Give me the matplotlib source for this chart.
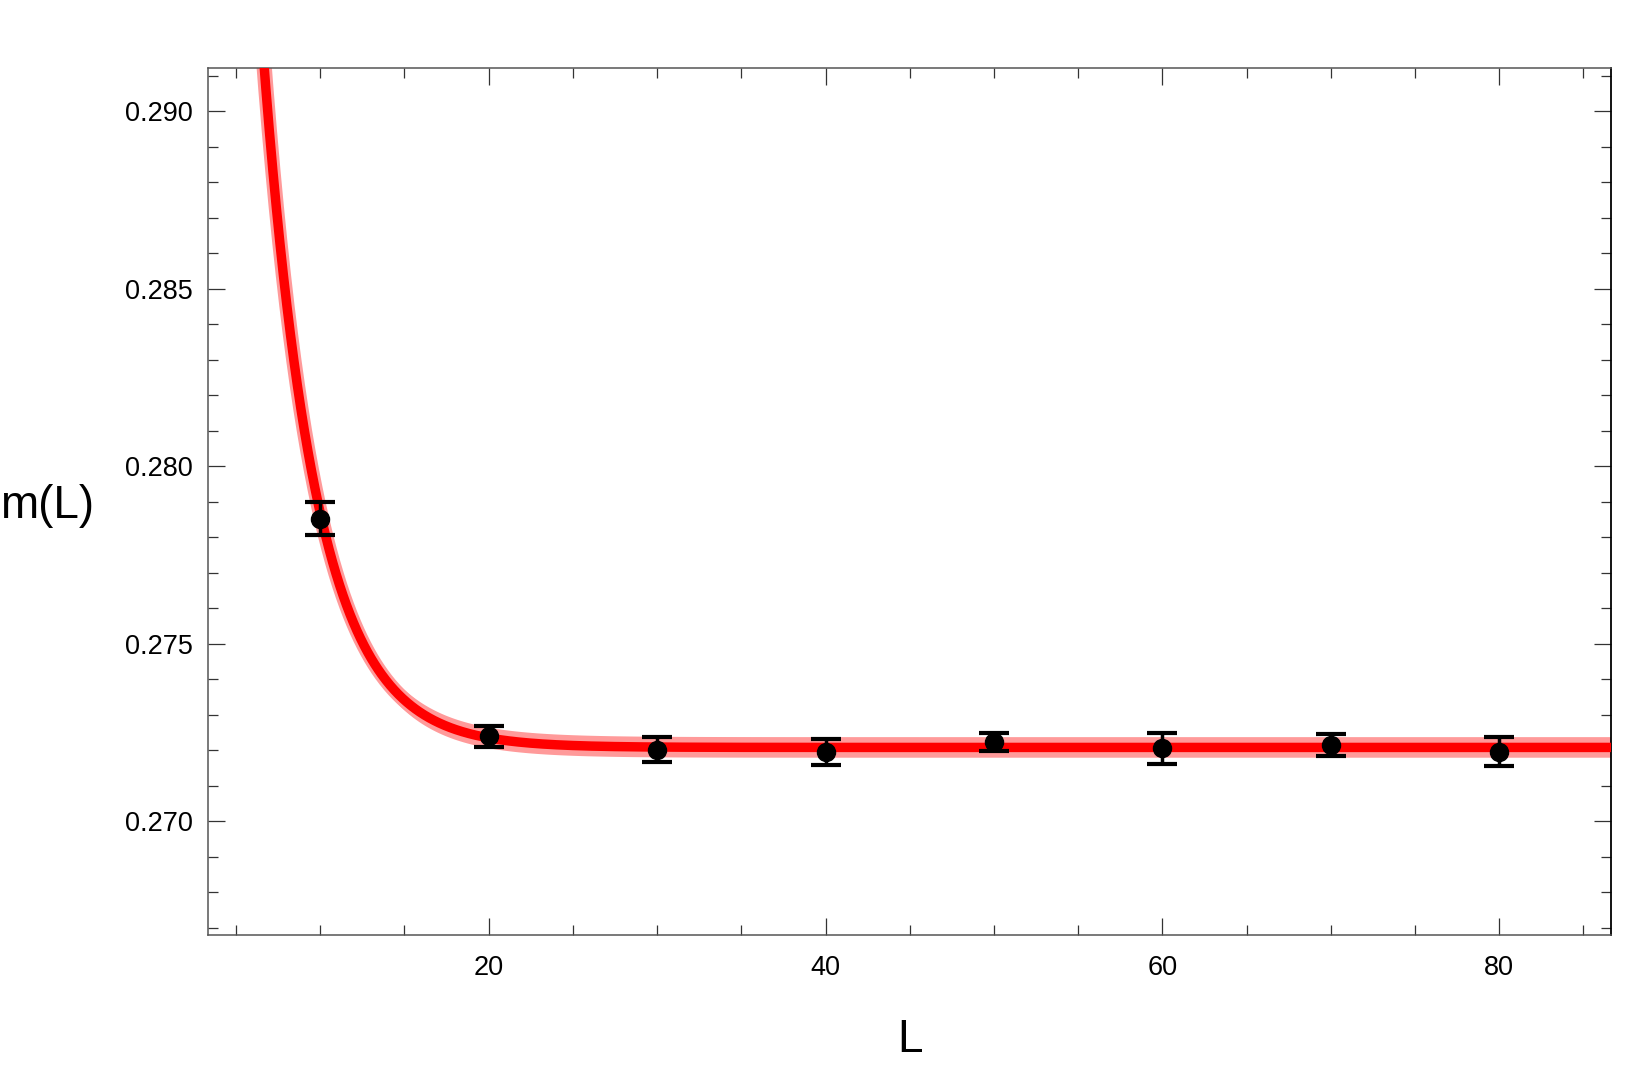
import numpy as np
import matplotlib
matplotlib.use("Agg")
import matplotlib.pyplot as plt
from matplotlib.ticker import MultipleLocator, FormatStrFormatter

# ---- data ----
L_data = [10, 20, 30, 40, 50, 60, 70, 80]
m_data = [0.27852, 0.27239, 0.27202, 0.27195, 0.27223, 0.27205, 0.27215, 0.27196]
m_err = [0.00047, 0.00030, 0.00035, 0.00037, 0.00026, 0.00044, 0.00030, 0.00041]

# fitted curve parameters  m(L) = m_inf + A * exp(-b L)
fit_m_inf = 0.27208
fit_A = 0.1618
fit_b = 0.32
band_half = 0.00029

x_range = (3.35, 86.66)
y_range = (0.26679, 0.29122)
x_major = [20, 40, 60, 80]
y_major = [0.270, 0.275, 0.280, 0.285, 0.290]

plt.rcParams['font.family'] = ['Liberation Sans', 'DejaVu Sans']

fig = plt.figure(figsize=(16.44, 10.69), dpi=100)
ax = fig.add_axes([0.12670, 0.12507, 0.85341, 0.81160])

Lc = np.linspace(x_range[0], x_range[1], 2000)
mc = fit_m_inf + fit_A * np.exp(-fit_b * Lc)

pink = '#ff9a9a'
ax.fill_between(Lc, mc - band_half, mc + band_half, color=pink, lw=0, zorder=1)
ax.plot(Lc, mc, color=pink, lw=11, solid_capstyle='butt', zorder=2)
ax.plot(Lc, mc, color='#ff0000', lw=6.8, solid_capstyle='butt', zorder=3)

ax.errorbar(L_data, m_data, yerr=m_err, fmt='o', color='black', ms=13,
            elinewidth=2.5, capsize=11, capthick=3, zorder=5)

ax.set_xlim(*x_range)
ax.set_ylim(*y_range)
ax.set_xticks(x_major)
ax.set_yticks(y_major)
ax.xaxis.set_minor_locator(MultipleLocator(5))
ax.yaxis.set_minor_locator(MultipleLocator(0.001))
ax.yaxis.set_major_formatter(FormatStrFormatter('%.3f'))

for s in ['left', 'bottom', 'top']:
    ax.spines[s].set_color('#555555')
    ax.spines[s].set_linewidth(1.1)
ax.spines['right'].set_color('black')
ax.spines['right'].set_linewidth(1.3)

ax.tick_params(which='both', direction='in', top=True, right=True,
               color='#333333', width=0.9, labelsize=19.5)
ax.tick_params(axis='y', which='both', pad=11)
ax.tick_params(axis='x', which='both', pad=14)
ax.tick_params(which='major', length=12)
ax.tick_params(which='minor', length=7)

fig.text(0.0, 0.5267, 'm(L)', fontsize=33, ha='left', va='center')
fig.text(0.5534, 0.027, 'L', fontsize=33, ha='center', va='center')

fig.savefig('out.png', dpi=100)
